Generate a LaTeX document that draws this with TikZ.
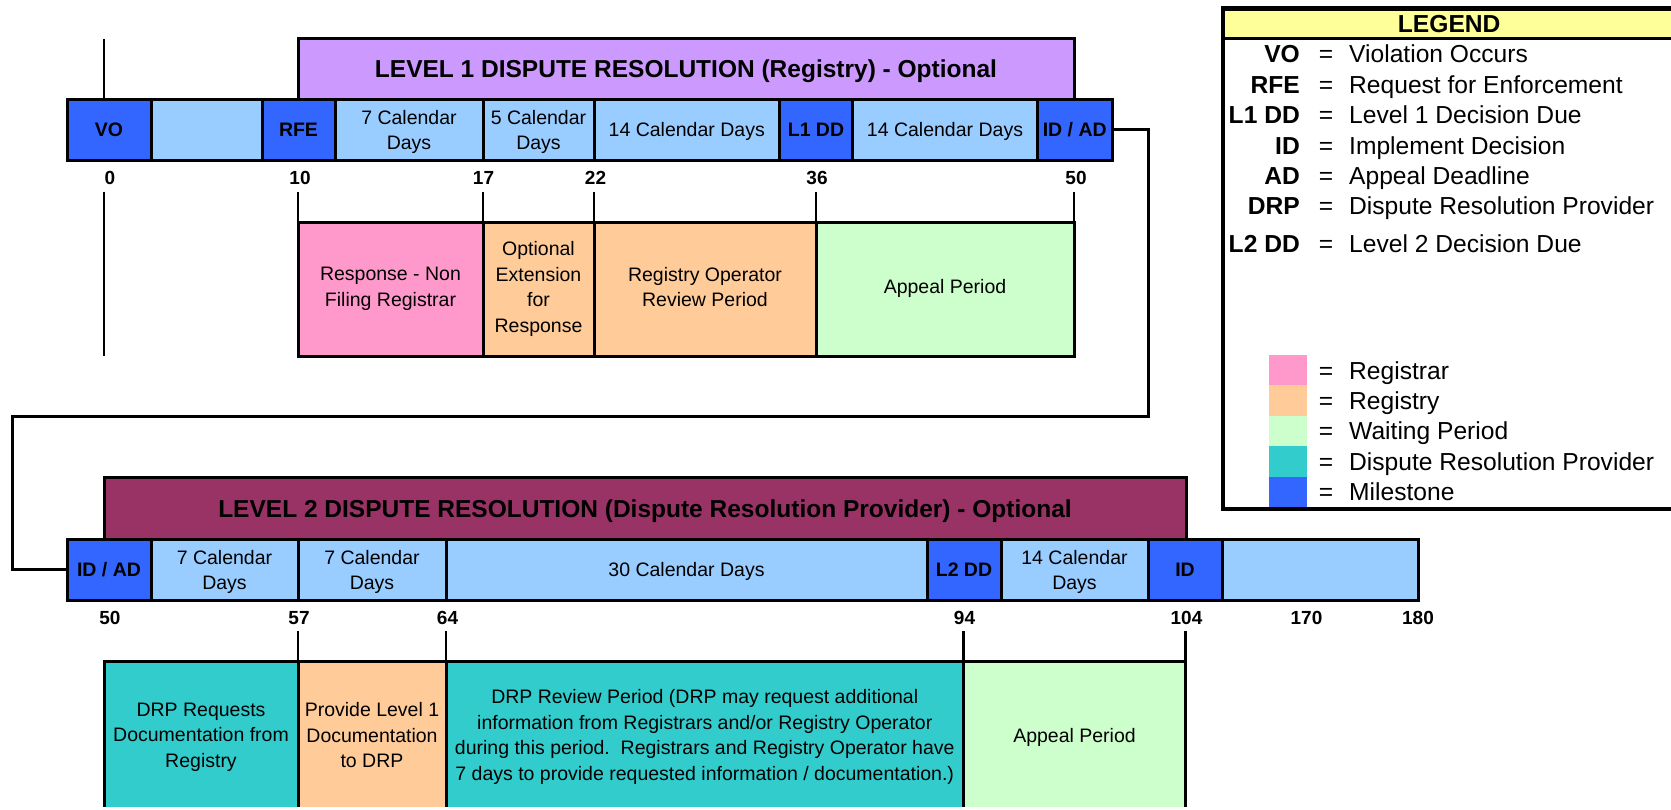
\documentclass[tikz,border=0pt]{standalone}
\usepackage{fontspec}
\setmainfont{Liberation Sans}
\usetikzlibrary{positioning}

\definecolor{milestone}{HTML}{3366FF}
\definecolor{calblue}{HTML}{99CCFF}
\definecolor{lvlonec}{HTML}{CC99FF}
\definecolor{lvltwoc}{HTML}{993366}
\definecolor{registrar}{HTML}{FF99CC}
\definecolor{registry}{HTML}{FFCC99}
\definecolor{waiting}{HTML}{CCFFCC}
\definecolor{drp}{HTML}{33CCCC}
\definecolor{legendyel}{HTML}{FFFF99}

\begin{document}
\begin{tikzpicture}[x=1pt, y=-1pt,
        cell/.style={draw, line width=3pt, inner sep=0pt, outer sep=0pt, minimum height=60.5pt, align=center, text depth=0pt, font=\fontsize{19.5}{25.5}\selectfont},
        ms/.style={cell, fill=milestone, font=\fontsize{19.5}{25.5}\selectfont\bfseries},
        days/.style={cell, fill=calblue},
        phase/.style={draw, line width=3pt, inner sep=0pt, outer sep=0pt, align=center, text depth=0pt, font=\fontsize{19.5}{25.5}\selectfont},
        banner/.style={draw, line width=3pt, inner sep=0pt, outer sep=0pt, text depth=0pt, font=\fontsize{24.5}{29}\selectfont\bfseries},
        num/.style={inner sep=0pt, text depth=0pt, font=\fontsize{19}{23}\selectfont\bfseries},
        tick/.style={line width=2.8pt},
        link/.style={line width=3pt},
        key/.style={inner sep=0pt, text height=17.6pt, text depth=0pt, font=\fontsize{24.6}{29}\selectfont\bfseries},
        keytext/.style={key, font=\fontsize{24.6}{29}\selectfont},
        swatch/.style={inner sep=0pt, outer sep=0pt, minimum width=38pt, minimum height=30.4pt}]
        \useasboundingbox (0,0) rectangle (1671,809);
        \clip (0,0) rectangle (1671,806.5);

        % level 1
        \node[banner, fill=lvlonec, anchor=south west, minimum width=776pt, minimum height=61pt] (lvlone) at (298,99.5) {LEVEL 1 DISPUTE RESOLUTION (Registry) - Optional};
        \node[ms, minimum width=84pt, anchor=west] (vo) at (67,129.75) {VO};
        \node[days, minimum width=111pt, right=0pt of vo] (gapA) {};
        \node[ms, minimum width=73pt, right=0pt of gapA] (rfe) {RFE};
        \node[days, minimum width=148pt, right=0pt of rfe] (dA) {7 Calendar\\Days};
        \node[days, minimum width=111pt, right=0pt of dA] (dB) {5 Calendar\\Days};
        \node[days, minimum width=185.5pt, right=0pt of dB] (dC) {14 Calendar Days};
        \node[ms, minimum width=73pt, right=0pt of dC] (lddA) {L1 DD};
        \node[days, minimum width=185pt, right=0pt of lddA] (dD) {14 Calendar Days};
        \node[ms, minimum width=74.5pt, right=0pt of dD] (idadA) {ID / AD};

        \node[num] (nA) at (110,177.5) {0};
        \node[num] (nB) at (300,177.5) {10};
        \node[num] (nC) at (483.5,177.5) {17};
        \node[num] (nD) at (595.5,177.5) {22};
        \node[num] (nE) at (817,177.5) {36};
        \node[num] (nF) at (1076,177.5) {50};

        \node[phase, fill=registrar, text depth=5pt, anchor=north west, minimum width=185pt, minimum height=133.5pt] (resp) at (298,222.5) {Response - Non\\Filing Registrar};
        \node[phase, fill=registry, text depth=5pt, minimum width=111pt, minimum height=133.5pt, right=0pt of resp] (ext) {Optional\\Extension\\for\\Response};
        \node[phase, fill=registry, text depth=5pt, minimum width=222pt, minimum height=133.5pt, right=0pt of ext] (review) {Registry Operator\\Review Period};
        \node[phase, fill=waiting, text depth=5pt, minimum width=258pt, minimum height=133.5pt, right=0pt of review] (appealA) {Appeal Period};

        \draw[tick] ([xshift=-5pt]vo.north) -- ++(0,-60.5);
        \draw[tick] ([xshift=-5pt]vo.south) ++(0,31.7) -- ++(0,164.3);
        \draw[tick] (resp.north west) -- ++(0,-30.8);
        \draw[tick] (ext.north west) -- ++(0,-30.8);
        \draw[tick] (review.north west) -- ++(0,-30.8);
        \draw[tick] (appealA.north west) -- ++(0,-30.8);
        \draw[tick] (appealA.north east) -- ++(0,-30.8);

        % level 2
        \node[banner, fill=lvltwoc, anchor=south west, minimum width=1082pt, minimum height=62.5pt] (lvltwo) at (104,539.5) {LEVEL 2 DISPUTE RESOLUTION (Dispute Resolution Provider) - Optional};
        \node[ms, minimum width=84pt, anchor=west] (idadB) at (67,569.75) {ID / AD};
        \node[days, minimum width=147pt, right=0pt of idadB] (dE) {7 Calendar\\Days};
        \node[days, minimum width=148pt, right=0pt of dE] (dF) {7 Calendar\\Days};
        \node[days, minimum width=481pt, right=0pt of dF] (dG) {30 Calendar Days};
        \node[ms, minimum width=74pt, right=0pt of dG] (lddB) {L2 DD};
        \node[days, minimum width=147pt, right=0pt of lddB] (dH) {14 Calendar\\Days};
        \node[ms, minimum width=74pt, right=0pt of dH] (idB) {ID};
        \node[days, minimum width=196pt, right=0pt of idB] (gapB) {};

        \node[num] (nG) at (110,617.5) {50};
        \node[num] (nH) at (299,617.5) {57};
        \node[num] (nI) at (447.5,617.5) {64};
        \node[num] (nJ) at (964.5,617.5) {94};
        \node[num] (nK) at (1186.5,617.5) {104};
        \node[num] (nL) at (1306.5,617.5) {170};
        \node[num] (nM) at (1418,617.5) {180};

        \node[phase, fill=drp, anchor=north west, minimum width=194pt, minimum height=148pt] (docreq) at (104,661) {DRP Requests\\Documentation from\\Registry};
        \node[phase, fill=registry, minimum width=148pt, minimum height=148pt, right=0pt of docreq] (provide) {Provide Level 1\\Documentation\\to DRP};
        \node[phase, fill=drp, minimum width=517.5pt, minimum height=148pt, right=0pt of provide] (drprev) {DRP Review Period (DRP may request additional\\information from Registrars and/or Registry Operator\\during this period.\ \ Registrars and Registry Operator have\\7 days to provide requested information / documentation.)};
        \node[phase, fill=waiting, minimum width=222pt, minimum height=148pt, right=0pt of drprev] (appealB) {Appeal Period};

        \draw[tick] (provide.north west) -- ++(0,-30);
        \draw[tick] (drprev.north west) -- ++(0,-30);
        \draw[tick] (appealB.north west) -- ++(0,-30);
        \draw[tick] (appealB.north east) -- ++(0,-30);

        % from level 1 to level 2
        \coordinate (bend) at (12.7,416);
        \draw[link] (idadA.east) -- ++(36.3,0) |- (bend) |- (idadB.west);

        % legend
        \node[key, fill=legendyel, anchor=north west, minimum width=452pt, minimum height=29.8pt] (keyhead) at (1223,8.5) {LEGEND};
        \draw[line width=2.5pt] (keyhead.south west) -- (keyhead.south east);
        \node[draw, line width=4.5pt, inner sep=0pt, outer sep=0pt, anchor=north west, minimum width=452pt, minimum height=500.5pt] (legend) at (1223,8.5) {};

        \node[key, anchor=east] (kA) at (1300,53.3) {VO};
        \node[keytext] (eA) at (1326,53.3) {=};
        \node[keytext, anchor=west] (tA) at (1349,53.3) {Violation Occurs};
        \node[key, anchor=east] (kB) at (1300,84.3) {RFE};
        \node[keytext] (eB) at (1326,84.3) {=};
        \node[keytext, anchor=west] (tB) at (1349,84.3) {Request for Enforcement};
        \node[key, anchor=east] (kC) at (1300,115) {L1 DD};
        \node[keytext] (eC) at (1326,115) {=};
        \node[keytext, anchor=west] (tC) at (1349,115) {Level 1 Decision Due};
        \node[key, anchor=east] (kD) at (1300,145.7) {ID};
        \node[keytext] (eD) at (1326,145.7) {=};
        \node[keytext, anchor=west] (tD) at (1349,145.7) {Implement Decision};
        \node[key, anchor=east] (kE) at (1300,175.7) {AD};
        \node[keytext] (eE) at (1326,175.7) {=};
        \node[keytext, anchor=west] (tE) at (1349,175.7) {Appeal Deadline};
        \node[key, anchor=east] (kF) at (1300,205.7) {DRP};
        \node[keytext] (eF) at (1326,205.7) {=};
        \node[keytext, anchor=west] (tF) at (1349,205.7) {Dispute Resolution Provider};
        \node[key, anchor=east] (kG) at (1300,243.3) {L2 DD};
        \node[keytext] (eG) at (1326,243.3) {=};
        \node[keytext, anchor=west] (tG) at (1349,243.3) {Level 2 Decision Due};

        \node[swatch, fill=registrar, anchor=north west] (swA) at (1269,355) {};
        \node[swatch, fill=registry, below=0pt of swA] (swB) {};
        \node[swatch, fill=waiting, below=0pt of swB] (swC) {};
        \node[swatch, fill=drp, below=0pt of swC] (swD) {};
        \node[swatch, fill=milestone, below=0pt of swD] (swE) {};
        \node[keytext] (qA) at (eA |- swA) {=};
        \node[keytext, anchor=west] (lA) at (tA.west |- swA) {Registrar};
        \node[keytext] (qB) at (eA |- swB) {=};
        \node[keytext, anchor=west] (lB) at (tA.west |- swB) {Registry};
        \node[keytext] (qC) at (eA |- swC) {=};
        \node[keytext, anchor=west] (lC) at (tA.west |- swC) {Waiting Period};
        \node[keytext] (qD) at (eA |- swD) {=};
        \node[keytext, anchor=west] (lD) at (tA.west |- swD) {Dispute Resolution Provider};
        \node[keytext] (qE) at (eA |- swE) {=};
        \node[keytext, anchor=west] (lE) at (tA.west |- swE) {Milestone};
    \end{tikzpicture}
\end{document}
